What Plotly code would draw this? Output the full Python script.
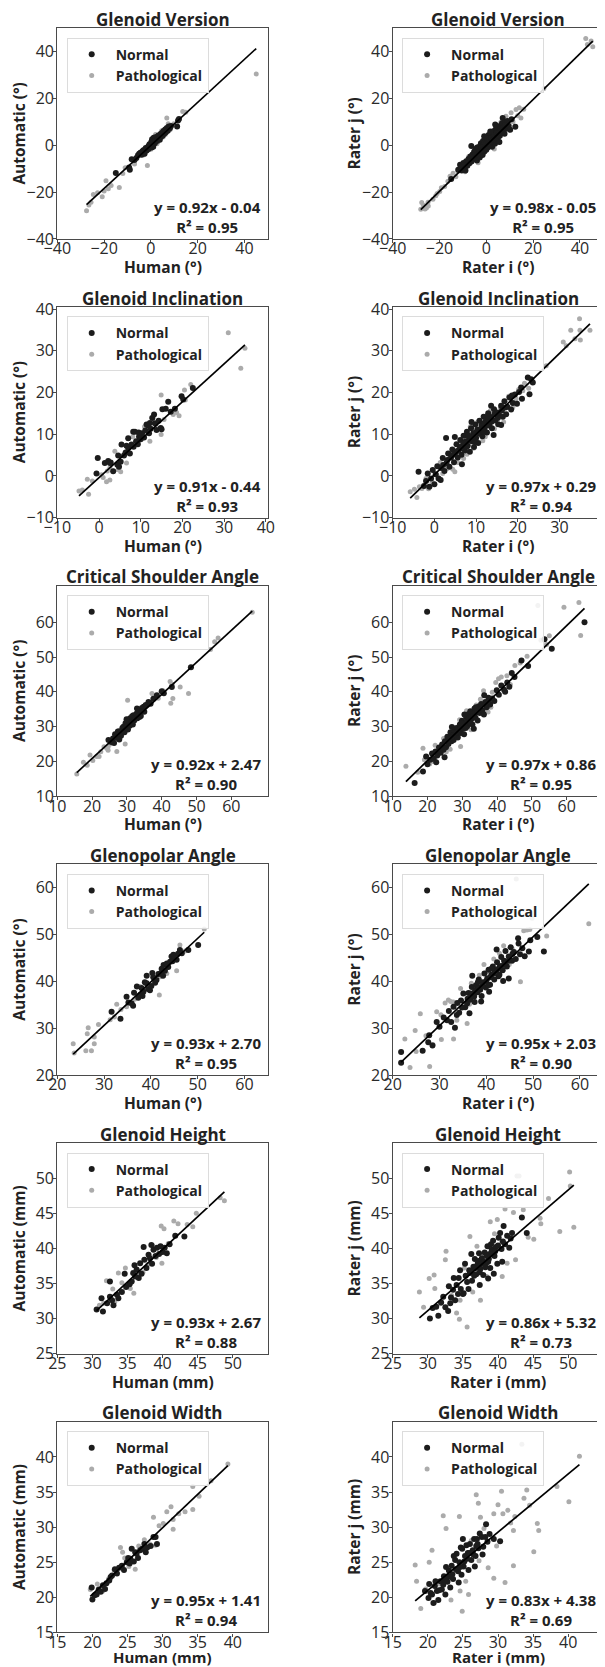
import plotly.graph_objects as go

# ---------------- chart values ----------------
panel_titles = ["Glenoid Version", "Glenoid Inclination", "Critical Shoulder Angle",
                "Glenopolar Angle", "Glenoid Height", "Glenoid Width"]
units = ["°", "°", "°", "°", "mm", "mm"]
axis_ranges = [(-40, 50), (-10, 40.5), (10, 70.5), (20, 65), (25, 55), (15, 45)]
tick_values = [[-40, -20, 0, 20, 40], [-10, 0, 10, 20, 30, 40], [10, 20, 30, 40, 50, 60],
               [20, 30, 40, 50, 60], [25, 30, 35, 40, 45, 50], [15, 20, 25, 30, 35, 40]]

slopes_auto = [0.92, 0.91, 0.92, 0.93, 0.93, 0.95]
intercepts_auto = [-0.04, -0.44, 2.47, 2.70, 2.67, 1.41]
r2_auto = [0.95, 0.93, 0.90, 0.95, 0.88, 0.94]
slopes_rater = [0.98, 0.97, 0.97, 0.95, 0.86, 0.83]
intercepts_rater = [-0.05, 0.29, 0.86, 2.03, 5.32, 4.38]
r2_rater = [0.95, 0.94, 0.95, 0.90, 0.73, 0.69]

# Glenoid Version
gv_auto_normal = [(-15,-11.8),(-9,-10.5),(-9.3,-9.5),(-8.2,-6),(-7,-6.3),(-6.2,-5.4),(-5.5,-4.2),(-5,-3.6),(-4.5,-3.2),(-4,-4),(-3.6,-2.5),(-3.2,-2.1),(-3,-3.2),(-2.5,-1.8),(-2.2,-1.2),(-1.8,-2.2),(-1.5,-0.9),(-1,-0.3),(-1,-1.6),(-0.6,0.4),(-0.2,-0.6),(0,0.5),(0.2,1.5),(0.5,2.6),(0.6,0.2),(0.9,1.2),(1.2,3.2),(1.4,1.8),(1.7,0.9),(2,2.4),(2.2,3.6),(2.6,1.8),(2.9,2.9),(3.2,4.2),(3.5,3.1),(3.8,2.4),(4.1,4.8),(4.4,3.7),(4.8,5.4),(5.1,4.2),(5.4,6.1),(5.8,5),(6.1,6.8),(6.4,5.6),(6.8,7.4),(7.2,6.2),(7.6,8),(8.1,7.3),(8.6,8.3),(11.2,8),(11.6,10.6),(12,11.2),(1,-0.6),(-2.7,-3.6),(0.3,-0.9)]
gv_auto_path = [(-27.5,-28),(-26.5,-25.5),(-25.6,-24.3),(-24.6,-21),(-22.8,-20.3),(-20.8,-22),(-20,-19.5),(-19.2,-15.2),(-18.2,-18.6),(-17,-17.2),(-13.5,-18),(-12,-12),(-11,-9.6),(-7,-8),(-6.4,-5.6),(-1.5,-8.6),(-2.3,-2.6),(-1.2,-0.4),(0.4,-0.3),(0.9,2.1),(2,4.6),(3,1.4),(3.6,2.6),(4.6,6.2),(5.2,3.6),(6.2,4.6),(6.8,11.7),(8.2,6.6),(9.8,9.2),(13.6,14.4),(14.9,14.1),(45,30.5),(-3.2,-4.1),(0,-1.7),(2.6,0.7),(7.4,9.2),(1.6,3.8),(-4.2,-2.8)]
gv_rater_normal = [(-15,-14.4),(-12,-10.4),(-11.2,-8.3),(-10.5,-10.8),(-9.8,-7.6),(-9.2,-9.4),(-8.6,-6.8),(-8.1,-8.7),(-7.6,-5.9),(-7.2,-7.7),(-6.8,-4.8),(-6.4,-0.3),(-6.3,-6.9),(-5.9,-3.9),(-5.6,-6),(-5.2,-2.8),(-5,-5.1),(-4.7,-1.6),(-4.5,-4.4),(-4.2,-3.2),(-4,-6.5),(-3.7,-2.1),(-3.5,-4.6),(-3.2,-0.7),(-3,-3.4),(-2.8,-5.2),(-2.6,-1.8),(-2.3,0.9),(-2.1,-2.9),(-1.9,-0.4),(-1.6,-4.1),(-1.4,1.8),(-1.2,-1.5),(-1,0.3),(-0.8,-2.6),(-0.6,2.9),(-0.4,-0.8),(-0.2,1.1),(0,-1.9),(0.2,3.6),(0.4,0.2),(0.6,-0.9),(0.8,2.1),(1,4.4),(1.2,-0.2),(1.4,1.3),(1.6,3.1),(1.8,0.4),(2,5.3),(2.2,2.2),(2.5,-0.6),(2.7,3.9),(3,1.5),(3.2,6.1),(3.4,2.6),(3.7,0.7),(4,4.6),(4.2,7.4),(4.5,2.1),(4.7,5.6),(5,3.3),(5.3,8.1),(5.5,6.4),(5.8,4.1),(6.1,7.2),(6.4,5.1),(6.7,9.4),(7,11.7),(7,6.2),(7.4,8.1),(7.8,4.9),(8.2,9.8),(8.5,7.1),(9,10.4),(9.6,8.2),(10.2,6.6),(10.8,11.1),(12.4,7.9),(-8.9,-10.8),(-3.9,-0.9),(1.7,5.9),(3.8,8.9),(5.6,1.4),(-0.9,3.9),
                   (-7.8,-7.2),(-6.9,-5.6),(-6,-4.5),(-5.4,-4.9),(-4.8,-3.1),(-4.3,-5.4),(-3.8,-3.9),(-3.3,-1.6),(-2.9,-2.4),(-2.4,-3.9),(-2,-1.1),(-1.5,-2.2),(-1.1,-0.6),(-0.7,1.2),(-0.3,-1.3),(0.1,0.9),(0.5,2.8),(0.9,0.6),(1.3,2.4),(1.9,1.4),(2.3,3.2),(2.8,2.3),(3.3,4.2),(3.9,3.1),(4.4,5.1),(4.9,4.3),(5.7,5.6),(6.3,6.4),(7.1,7.3),(8,8.6),(-9.5,-8.6),(-10.8,-9.5)]
gv_rater_path = [(-28,-27.3),(-27.6,-24.4),(-26.9,-25.6),(-26.2,-27.2),(-25.6,-26.8),(-24.8,-25.9),(-24.9,-24.3),(-21.6,-21.6),(-21,-20.6),(-19.9,-19.7),(-19.2,-18.1),(-17.8,-17.6),(-16.4,-15.4),(-15.5,-13.2),(-14.2,-11.9),(-13,-13.4),(-12.1,-11.1),(-10,-10.4),(-9.1,-11.3),(-7.5,-4.8),(-3.5,-7.5),(-1.2,-3.5),(1.1,0.9),(2.6,4.4),(5.3,1.3),(6.2,9.8),(7.6,11.2),(8.4,12.4),(9.4,8.8),(10.6,13.9),(11.4,10.1),(12.7,15.3),(13.4,12.6),(14.1,16),(14.8,11.7),(16,15.4),(24.6,24.3),(42.5,45.6),(43.2,43.1),(45.5,42.1),(44.8,44.6),(-22.8,-23.1),(0,2.2),(3.4,-1.6)]

# Glenoid Inclination
gi_auto_normal = [(-0.3,4.3),(-0.6,0.6),(1.4,3.1),(2.2,3.6),(2.6,3.1),(3.4,1.1),(4.4,2.7),(4.8,2.2),(5.4,7.5),(5.2,3.4),(6,4.9),(6.4,5.6),(7,9),(7,6.7),(7.4,5.4),(7.8,7.5),(8.2,10.6),(8.3,7),(8.6,10.6),(8.9,8.3),(9.3,7.6),(9.6,9.4),(10,8.8),(10.3,10.2),(10.8,9.2),(11.1,10.9),(11.4,12.3),(11.8,12),(12,10.2),(12.4,11.3),(12.8,13.9),(13.2,14.7),(13.4,12.6),(13.8,11),(14.3,13.2),(14.8,11.5),(15,11.2),(15.2,16),(16,16.1),(16.6,17.8),(17.2,15.4),(18.2,16.1),(19.8,19.1),(20.2,18.3),(22.5,21.1),(9.5,10.4),(6.6,7.2),(4.6,4.9),(2.8,3.2),(12.2,12.7)]
gi_auto_path = [(-4.8,-3.6),(-4,-3.4),(-2.5,-4.4),(-2.8,-0.8),(-1.6,-1.2),(0.6,0.3),(1,-0.4),(1.8,-1.4),(2,1.2),(2.6,-1),(2.6,1.9),(3.4,1.2),(3.8,5.9),(4.6,1.5),(5.2,1),(6.2,5.5),(6.6,3.1),(7.6,7.2),(9.4,8.1),(10.6,9.6),(12.2,8.3),(12.6,14),(13.6,12.2),(14.9,9.9),(14.9,19.4),(15.6,13.5),(17.8,14.7),(18.6,15.2),(19.2,14.4),(20.5,20.6),(20.7,18.2),(22,21.9),(31,34.3),(34,25.8),(35,30.6),(8.1,9.4),(10.9,11.8)]
gi_rater_normal = [(-3.8,1),(-2.5,-2.4),(-2,-1.2),(-1.6,0.6),(-1.2,-2.6),(-0.8,-0.6),(-0.4,1.4),(0,-2),(0.3,0.4),(0.7,2.3),(1,-0.6),(1.5,-1),(1.6,1.9),(2,4.3),(2.4,1.2),(2.8,9.1),(2.9,3.1),(3.3,5.4),(3.6,2.2),(4,4.4),(4.3,6.3),(4.7,3.3),(5,5.5),(5.3,7.6),(5.6,4.4),(6,6.4),(6.2,8.6),(6.5,5.1),(6.8,7.3),(7,9.6),(7.3,6.1),(7.5,8.3),(7.8,10.6),(8,7.2),(8.3,9.2),(8.5,5.8),(8.8,11.4),(9,8.3),(9.3,10.2),(9.5,6.9),(9.8,12.3),(10,9.1),(10.3,11.1),(10.5,7.9),(10.8,13.2),(11,10.1),(11.3,12.1),(11.5,9.5),(11.8,14.2),(12,11.1),(12.3,13.1),(12.6,10.4),(12.9,15),(13.2,12.1),(13.5,14.1),(13.8,11.4),(14.2,9.8),(14.3,16),(14.6,13.3),(15,15.2),(15.3,12.4),(15.6,14.5),(16,16.8),(16.4,14.2),(16.8,17.9),(17.2,14.8),(17.5,16.6),(18,18.8),(18.4,15.9),(18.8,17.5),(19.3,19.5),(19.8,17.3),(20.3,20.1),(21,18.5),(22.4,23.6),(22.8,19.6),(23.2,23.2),(23.6,22.4),(6.6,2.8),(8.9,12.9),(13.6,16.8),(4.9,9.3),(16,12.2),
                   (5.5,6),(6.3,7),(7.1,7.9),(7.7,7),(8.6,8.5),(9.2,9.4),(9.9,10.4),(10.6,10.2),(11.2,11.1),(11.9,12.6),(12.5,12),(13.1,13.6),(13.7,13),(14.4,14.8),(15.2,13.9),(16.2,15.7),(17,16.4),(3.1,3.8),(4.5,5.1),(2.1,2.6),(18.6,19.3),(20.8,21.2),(9.7,8.1),(11.7,10.6),(8.1,9.7),(12.8,14.3)]
gi_rater_path = [(-5.8,-3.8),(-4.2,-5.2),(-3.6,-2.6),(-3,-3),(-2,-0.6),(-1.4,-3.1),(-0.6,-1.4),(0.6,0.2),(1.4,3.2),(2,0.6),(3.1,1.8),(3.6,4.1),(4.4,1.6),(4.9,1),(5.6,3.2),(6.4,8.3),(7.8,5.2),(8.6,11.8),(9.4,6.6),(10.4,12.9),(11.6,8.4),(12.2,9.4),(13.4,15.6),(14.4,11.3),(15.8,16.2),(16.6,12.9),(17.8,19.1),(18.8,16.4),(19.6,18.5),(20.2,20.7),(21.2,20.4),(21.6,22.2),(22.6,21),(26.8,26.4),(30.9,32.1),(31.6,31.2),(32.7,34.9),(33.7,32.9),(34.8,37.7),(34.9,34.9),(35,32.6),(37.3,34.9),(-4.8,-3.2),(7,4.2)]

# Critical Shoulder Angle
csa_auto_normal = [(24.7,26.2),(25.5,25.6),(26,26.6),(26.6,27.8),(27,26.8),(27.4,28.6),(28,28.6),(28.3,27.4),(28.7,29.6),(29,30),(29.3,28.4),(29.6,31),(30,30.2),(30.3,29.2),(30.6,31.6),(30.9,32.4),(31.2,31.2),(31.5,33),(31.9,33.3),(32.1,31.8),(32.4,32.6),(32.8,33.8),(33,32.4),(33.3,34.4),(33.8,34.8),(34,33.1),(34.3,35.4),(34.8,35.7),(35,34.3),(35.4,36.2),(36.2,37.1),(36.8,36.6),(37.6,38),(38.6,39),(40,40.2),(40.6,39.6),(42.9,41.4),(48.4,47.1),(33.6,32.8),(31.7,30.6),(27.8,26.3),(29.9,32.1),(32.9,35.2),(26.3,25.3),(30.8,30.3)]
csa_auto_path = [(15.6,16.4),(17.5,19.8),(18.6,18.9),(19.4,21.9),(20.2,20.3),(21.3,21.4),(22.5,22.8),(23.4,24.2),(24.2,23.8),(24.6,23.2),(25.2,25),(27.1,22.9),(26.4,27.2),(27.8,29),(29.5,25),(30.2,37.6),(30.7,30.6),(32,32.9),(33.3,33.7),(35.8,36),(37.2,39.5),(39,38.2),(40.4,40.3),(42.4,43),(42.6,36.7),(43.2,38.1),(43,42.2),(45.3,41.4),(47.7,39.5),(48.2,47.1),(54,52.2),(55.2,54.4),(56.2,55.5),(66,62.9),(24.6,24.2),(22,21.4)]
csa_rater_normal = [(16.3,13.8),(18.7,17.1),(19.6,21.4),(20,19.2),(20.8,20.5),(21.3,22.3),(21.8,20.8),(22.3,22.9),(22.8,21.7),(23.3,24),(23.8,22.5),(24.2,24.9),(24.6,23.4),(25,25.8),(25.3,24.1),(25.7,27.1),(26,25),(26.3,26.4),(26.6,28.4),(26.9,25.8),(27.2,27.4),(27.5,26.2),(27.8,28.8),(28.1,27.1),(28.4,29.6),(28.7,26.9),(29,28.3),(29.3,30.6),(29.6,28.2),(29.9,31.7),(30.2,29.4),(30.5,27.8),(30.8,31),(31.1,32.8),(31.4,30.1),(31.7,33.6),(32,31.4),(32.3,34.4),(32.6,32.2),(32.9,30.6),(33.2,33.7),(33.5,35.2),(33.8,32.6),(34.1,34.5),(34.4,31.8),(34.7,35.8),(35,33.9),(35.4,36.5),(35.8,34.6),(36.2,33.5),(36.6,37.1),(37,35.6),(37.5,38.3),(38,36.4),(38.6,38.1),(39.2,37.4),(39.9,40.5),(40.5,39.2),(41.2,41.8),(42,40.6),(42.3,40),(42.9,42.7),(43.5,41.5),(44.2,45.4),(45,44.3),(47,49),(48.9,47.4),(55.7,52.4),(65.1,60),(53.6,55.1),(24.9,21.2),(27,29.9),(30.6,33.5),(33.3,29.4),(36.3,39),(22.5,19.8),
                    (26.2,26.5),(27,27),(27.6,27.6),(28.3,28.4),(28.9,29.2),(29.5,29.6),(30.1,30.4),(30.7,30.6),(31.3,31.6),(31.9,32.4),(32.5,32.8),(33.1,33.1),(33.7,34),(34.4,34.2),(35.1,35.5),(35.8,36.3),(36.7,36.4),(37.6,37.2),(29.8,31),(31,29.6),(33.9,35.6),(32.3,31.2)]
csa_rater_path = [(13.8,18.6),(17.2,16.9),(18.7,23.8),(19.1,20.5),(20.6,19.3),(21.5,20),(22.2,24.7),(23.4,23.5),(24.6,26.6),(25.4,22.8),(26.5,23.5),(27.8,29.8),(29.5,24.3),(29.2,32),(31.2,34.6),(32.5,29.1),(34,36.2),(35.2,37.9),(36.1,40.3),(37.4,34.2),(38.6,39.9),(39.6,42.7),(40.4,43.8),(41.2,44.3),(42.8,44.6),(45.1,47.6),(46.6,48.3),(48.6,50.2),(51.7,64.8),(52.6,54.8),(54.2,53.6),(55,56.1),(59.2,64.3),(63.5,65.7),(64,56.2),(38.2,35.6),(43.8,42.1),(28.3,27.7)]

# Glenopolar Angle
gp_auto_normal = [(31.6,33.5),(33.5,32),(34.8,36.7),(35.2,35.5),(35.9,35.3),(36.4,37.6),(37,38.9),(37.3,36.5),(37.7,37.1),(38,38.6),(38.4,37.8),(38.7,39.8),(39.1,39.6),(39.1,41.2),(39.4,38.4),(39.8,38.1),(40.1,39),(40.5,40.9),(40.9,39.7),(41.2,40.3),(41.6,41.6),(42,41.7),(42.3,42.7),(42.7,43.5),(43,42.3),(43.4,43.8),(43.7,43.1),(44.1,44.2),(44.4,45.3),(44.8,45.7),(45.1,44.9),(45.5,44.6),(45.8,45.9),(46.2,46.7),(46.6,46),(48,46.7),(50.1,47.8),(36.2,34.8),(38.2,36.9),(42.6,41.2),(44.6,44.3),(40.3,41.8)]
gp_auto_path = [(23.4,26.7),(23.6,24.7),(26.1,25.2),(26.4,28.8),(26.6,30.1),(27.3,25.2),(27.9,26.7),(27.9,28.1),(28.8,30.8),(31.3,31.8),(32.2,32.4),(32.7,35.1),(33.6,34),(34.8,34.6),(36.5,36.2),(37.7,38.9),(38.8,39.6),(40.6,40.2),(41.8,37.1),(42,41),(43.4,41.7),(44.6,45.1),(45.5,42.3),(46.2,47.8),(47.3,46.5),(51.4,51.2)]
gp_rater_normal = [(21.8,24.9),(21.8,22.6),(26.4,25.2),(27.6,27),(27.8,28.5),(28.5,26.3),(29.4,31.3),(30,30.3),(30.9,32.3),(31.6,31.7),(32,33.7),(32.5,31.3),(33,34.6),(33.7,32.8),(34.2,33.3),(34.6,35.9),(35.1,37.4),(35.5,34.5),(35.9,35.3),(36.2,37.5),(36.6,36.1),(36.9,38.8),(37.2,37),(37.5,35.6),(37.8,39.2),(38.1,37.7),(38.4,40.4),(38.7,38.2),(39,36.9),(39.3,39.8),(39.6,41.7),(39.9,38.7),(40.2,40.6),(40.5,42.5),(40.8,39.3),(41.1,41.4),(41.4,43.2),(41.7,40.4),(42,42.3),(42.3,44.1),(42.6,41.1),(42.9,43.2),(43.2,45.2),(43.5,42.4),(43.8,44.4),(44.1,46.5),(44.4,43.2),(44.8,40.6),(44.8,45.3),(45.2,47.3),(45.5,44.4),(45.9,46.3),(46.3,44.8),(46.8,49.2),(46.9,48.1),(47.2,45.8),(47.7,47.1),(48.2,45.4),(49.1,46.4),(49.4,48.8),(50.9,49.5),(52.3,46.4),(36.4,33.2),(38.9,35.7),(40.6,37.8),(33.3,30.1),(43.6,40.1),(37,41.2),(42.2,46.8),
                   (36,36.3),(36.8,37.4),(37.6,38),(38.4,38.7),(39.2,39.1),(40,40.1),(40.8,40.9),(41.6,41.7),(42.4,42.6),(43.2,43.3),(44,44),(44.8,44.4),(45.6,45.9),(38.2,39.8),(40.4,39.2),(42.8,41.4),(41.2,42.8),(37.4,36.8),(34.8,34.4),(33.8,35.4)]
gp_rater_path = [(22.6,27.7),(23.7,21.6),(24.8,29.5),(25,25),(25.9,33.1),(27.1,28.4),(27.9,21.8),(28.6,26.5),(29.4,33.5),(30.4,27.6),(31.2,35.4),(31.9,36),(32.4,35.7),(33,35.6),(33,27.7),(33.7,31.7),(34.5,38.5),(35.9,31),(36.8,39.6),(38.5,41.3),(39.5,43.6),(40.2,42.1),(41.6,44.8),(42.8,46),(43.7,47.6),(44.9,43.6),(45.5,47.1),(46.4,61.9),(47.3,39.9),(48,50.8),(48.7,51),(49.3,51.1),(49.8,53.5),(52.9,49.7),(61.9,52.3),(36.4,35.1),(30.3,32.9)]

# Glenoid Height
gh_auto_normal = [(30.6,31.3),(31.3,32.9),(31.5,31),(32.1,32.2),(32.5,35.3),(32.5,33.1),(32.8,32.6),(33,31.9),(33.5,33.4),(33.7,32.9),(34.2,33.8),(34.8,34.5),(35.3,34.9),(35.6,35.3),(35.8,36.5),(36,37.6),(36.3,37),(36.6,35.8),(36.8,37.9),(37,36.4),(37.3,40.2),(37.4,38.4),(37.7,37.2),(38,39.1),(38.2,38.6),(38.5,37.8),(38.7,39.8),(39,38.9),(39.2,40.1),(39.5,39.2),(39.7,40.3),(40,39.5),(40.3,40.1),(40.6,39.3),(41,40.6),(41.8,41.8),(43.1,41.7),(34.6,36.4),(38.4,40.5),(36.1,36)]
gh_auto_path = [(31,31.9),(31.6,32.2),(32,35.4),(32.9,34.2),(33.2,32.4),(33.7,36.5),(34.2,35.1),(34.7,37.2),(34.9,34.6),(35.4,34.3),(35.9,33.6),(36.4,36.3),(37.2,36.6),(37.9,37.7),(38.6,40.4),(39.1,38.7),(39.8,43.2),(39.9,37.9),(40.2,42.8),(40.8,40.7),(41.6,43.9),(42.2,43.5),(43.5,43.4),(44.3,43.1),(44.8,45),(48.2,47.2),(48.8,46.8)]
gh_rater_normal = [(30.3,30),(30.7,31.5),(31.2,31.7),(31.5,30.4),(31.9,32.3),(32.2,33.1),(32.5,31.6),(32.9,31.1),(33,34.6),(33.3,33),(33.6,34.1),(33.9,32.6),(34.1,34.8),(34.4,35.8),(34.7,34.2),(35,33.5),(35.1,33.6),(35.3,37.8),(35.6,35.2),(35.9,36.9),(36,36.5),(36.3,35.4),(36.5,37.4),(36.7,38.5),(36.9,36.3),(37.1,37.8),(37.3,39.3),(37.5,37.1),(37.7,38.6),(37.9,36.2),(38.1,39.4),(38.3,37.9),(38.5,40.3),(38.7,38.5),(38.9,37.2),(39.1,39.8),(39.3,41.1),(39.5,38.9),(39.7,40.2),(39.9,37.8),(40.1,41.5),(40.3,42.2),(40.5,39.9),(40.8,43.2),(41,40.6),(41.3,41.8),(41.6,40.1),(42,42.2),(43.4,44.4),(44.1,42.2),(37.4,34.8),(36.2,39.2),(34.6,36.9),(38.6,35.7),(40.6,38.1),(33.7,35.8),(35.8,34.2),(39.4,36.4),
                   (36.2,36.8),(36.8,37.2),(37.2,38.2),(37.6,37.8),(38,38.1),(38.4,38.9),(38.8,39.2),(39.2,39.2),(39.6,39.6),(40,40.4),(37.4,36.6),(38.2,37.3),(39,40.6),(35.4,36.1),(34.3,33.5),(33.2,32.2),(40.7,41),(41.8,41.4),(36.6,36.1),(38.6,38.1)]
gh_rater_path = [(28.8,33.8),(29.4,31.6),(30.2,35.7),(30.9,36.2),(31,34.3),(31.8,32.1),(32.5,38.4),(32.6,39.6),(33.4,33.3),(33.7,32.6),(34.1,30.8),(34.5,29.9),(34.6,32.6),(35.6,28.8),(35.2,37.2),(36,41.7),(36.4,33.8),(37,40.3),(37.5,32.6),(38,39.2),(38.4,36),(38.9,43.8),(39.5,42.1),(39.9,44.1),(40.6,36),(40.5,40.8),(41,45.6),(41.3,37.9),(42.2,45.1),(42.5,38.4),(42.7,50.3),(43,50.3),(43.6,45.5),(44.3,41.6),(45.1,41.3),(46,44.3),(46.1,43.5),(47.2,47.1),(48.8,42.4),(50.2,50.9),(50.3,48.9),(50.8,43),(37.7,37.4)]

# Glenoid Width
gw_auto_normal = [(19.9,21.4),(20,19.7),(20.3,20.3),(20.6,20.4),(20.9,21.1),(21.2,20.8),(21.5,21.7),(21.8,21.2),(22,22),(22.4,22.4),(22.8,23.1),(23.2,24),(23.5,23.4),(23.8,24.2),(24.2,24.5),(24.5,23.9),(24.9,25),(25.1,25.6),(25.4,25.5),(25.6,26.9),(25.9,25.1),(26.1,26.4),(26.3,26.2),(26.5,25.6),(26.8,26.7),(27.1,26.9),(27.4,27.6),(27.8,27.1),(28.3,27.3),(28.7,28.6),(29,28.6),(29.2,27.6),(25.3,24.8),(22.6,22.9),(27.6,26.4)]
gw_auto_path = [(19.7,21.1),(20.7,21.9),(21.5,20.9),(22.3,22.6),(23.1,23.8),(24,27.1),(24.6,25.6),(25.2,24.4),(26.1,24),(26.6,27.3),(27.4,28.2),(28.2,27.6),(28.7,31.4),(29,27.4),(29.5,30.2),(30.1,30.5),(30.6,32.2),(31.2,32.9),(31.5,31.1),(31.5,29.7),(32.3,31.9),(33.2,32.2),(34.3,32.5),(34.3,35.8),(35.2,34.4),(36.9,36.6),(39.3,39),(24.3,26.4)]
gw_rater_normal = [(19.6,20.9),(20.1,19.9),(20.4,20.6),(20.8,19.2),(21,21.6),(21.3,20.9),(21.5,19.6),(21.8,22.3),(22,21.1),(22.3,23),(22.5,20.4),(22.8,22.2),(23,23.8),(23.2,21.4),(23.4,24.5),(23.6,22.6),(23.9,25.3),(24.1,26.2),(24.3,23.7),(24.5,25),(24.7,27.1),(24.9,26.9),(25.1,24.4),(25.3,25.9),(25.5,27.4),(25.7,26.3),(26,27.6),(26.2,25.3),(26.4,26.7),(26.6,28.3),(26.8,25.9),(27,28.3),(27.2,27),(27.4,29.1),(27.7,28.6),(27.9,27.2),(28.3,30.4),(28.5,27.9),(28.8,29),(30.3,28),(25.8,23.9),(23.7,25.9),(21.1,22.3),(22.6,24.3),(24.4,22.1),(26.7,24.4),(27.8,26.1),(28.2,28.6),(20.2,21.9),(25,28.3),(29.4,28.3),
                   (21.6,21),(22.2,21.8),(22.9,23),(23.5,23.3),(24,24),(24.6,24.3),(25.2,25.1),(25.9,26.3),(26.5,26.1),(27.1,27.6),(23.3,22.9),(20.6,20.4),(25.6,25.5),(26.9,27.3),(24.8,23.2),(22.4,22.5)]
gw_rater_path = [(18.2,24.6),(18.4,22.3),(19,18.4),(19.7,21.2),(20.2,25),(20.6,26.7),(21,19.3),(21.6,21.9),(22.2,31.6),(22.6,29.8),(22.7,22.9),(23.3,19.6),(23.8,25.5),(24.5,31.5),(24.6,20.9),(24.9,18),(25.4,22.3),(25.8,20.4),(26.2,28.1),(26.9,34.6),(27.3,25.2),(27.5,31.4),(28,29.8),(28.6,24.2),(29.4,22.7),(29.4,31.9),(29.8,27.3),(30.5,35.1),(30.7,31.9),(31,22.1),(31.4,32.4),(31.8,30.6),(32.2,24.5),(32.2,29.5),(32.4,31.5),(33.4,41.8),(33.7,34.1),(34.1,35.3),(34.5,33.1),(35.1,26.5),(35.6,30.5),(35.8,29.5),(38.4,35.8),(40.1,33.6),(41.6,40.1),(30,33.2),(27.2,33.4)]

auto_normal = [gv_auto_normal, gi_auto_normal, csa_auto_normal, gp_auto_normal, gh_auto_normal, gw_auto_normal]
auto_path = [gv_auto_path, gi_auto_path, csa_auto_path, gp_auto_path, gh_auto_path, gw_auto_path]
rater_normal = [gv_rater_normal, gi_rater_normal, csa_rater_normal, gp_rater_normal, gh_rater_normal, gw_rater_normal]
rater_path = [gv_rater_path, gi_rater_path, csa_rater_path, gp_rater_path, gh_rater_path, gw_rater_path]

# ---------------- layout geometry (page px) ----------------
PAGE_W, PAGE_H = 605, 1667
OFF = 8                      # default body margin of the html page
W, H = PAGE_W - OFF, PAGE_H - OFF

def fx(px):
    return (px - OFF) / W

def fy(py):
    return 1 - (py - OFF) / H

col_left = [57.3, 392.7]
panel_w = 210.6
row_top0, row_pitch, panel_h = 28.3, 278.7, 210.6

FONT = "Open Sans"
TXT = "#222222"
NORMAL_C = "#1c1c1c"
PATH_C = "#ababab"

fig = go.Figure()
annotations = []
layout_upd = {}

for r in range(6):
    for c in range(2):
        idx = r * 2 + c + 1
        sfx = "" if idx == 1 else str(idx)
        xa, ya, leg = "x" + sfx, "y" + sfx, "legend" + sfx
        if c == 0:
            normal, path = auto_normal[r], auto_path[r]
            m, b, r2 = slopes_auto[r], intercepts_auto[r], r2_auto[r]
            xlab, ylab = f"Human ({units[r]})", f"Automatic ({units[r]})"
        else:
            normal, path = rater_normal[r], rater_path[r]
            m, b, r2 = slopes_rater[r], intercepts_rater[r], r2_rater[r]
            xlab, ylab = f"Rater i ({units[r]})", f"Rater j ({units[r]})"

        fig.add_trace(go.Scatter(
            x=[p[0] for p in path], y=[p[1] for p in path], mode="markers",
            marker=dict(color=PATH_C, size=5, line=dict(width=0)),
            name="Pathological", legend=leg, legendrank=2, xaxis=xa, yaxis=ya))
        fig.add_trace(go.Scatter(
            x=[p[0] for p in normal], y=[p[1] for p in normal], mode="markers",
            marker=dict(color=NORMAL_C, size=6, line=dict(width=0)),
            name="Normal", legend=leg, legendrank=1, xaxis=xa, yaxis=ya))
        xs = [p[0] for p in normal + path]
        x0, x1 = min(xs), max(xs)
        fig.add_trace(go.Scatter(
            x=[x0, x1], y=[m * x0 + b, m * x1 + b], mode="lines",
            line=dict(color="black", width=1.7), showlegend=False,
            xaxis=xa, yaxis=ya, hoverinfo="skip"))

        left = col_left[c]
        top = row_top0 + r * row_pitch
        bottom = top + panel_h
        xdom = [fx(left), min(1.0, fx(left + panel_w))]
        ydom = [fy(bottom), fy(top)]
        rng = axis_ranges[r]
        ax_common = dict(range=list(rng), tickvals=tick_values[r], showgrid=False, zeroline=False,
                         showline=True, mirror=True, linecolor="#4a4a4a", linewidth=1.2,
                         ticks="outside", ticklen=3, tickwidth=1, tickcolor="#4a4a4a",
                         tickfont=dict(family=FONT, size=16, color="#2a2a2a"),
                         fixedrange=True, automargin=False)
        layout_upd["xaxis" + sfx] = dict(domain=xdom, anchor=ya, ticklabelstandoff=-8, **ax_common)
        layout_upd["yaxis" + sfx] = dict(domain=ydom, anchor=xa, ticklabelstandoff=-4, **ax_common)
        layout_upd[leg] = dict(
            x=fx(left + 9.4), y=fy(top + 9.4), xanchor="left", yanchor="top",
            bgcolor="rgba(255,255,255,0.85)", bordercolor="#dcdcdc", borderwidth=1,
            font=dict(family=FONT, size=14, color=TXT, weight="bold"),
            itemwidth=38, tracegroupgap=0)

        cx = fx(left + panel_w / 2)
        annotations.append(dict(
            text=panel_titles[r], xref="paper", yref="paper", x=cx, y=fy(top),
            xanchor="center", yanchor="bottom", yshift=-3.5, borderpad=0, showarrow=False,
            font=dict(family=FONT, size=17, color=TXT, weight="bold")))
        xt_off = 28 if r < 5 else 24.2
        xt_size = 15.5 if r < 5 else 15
        annotations.append(dict(
            text=xlab, xref="paper", yref="paper", x=cx, y=fy(bottom + xt_off),
            xanchor="center", yanchor="middle", borderpad=0, showarrow=False,
            font=dict(family=FONT, size=xt_size, color=TXT, weight="bold")))
        ytx = 19 if c == 0 else 354
        annotations.append(dict(
            text=ylab, xref="paper", yref="paper", x=fx(ytx), y=fy(top + panel_h / 2),
            xanchor="center", yanchor="middle", textangle=-90, borderpad=0, showarrow=False,
            font=dict(family=FONT, size=15.5, color=TXT, weight="bold")))
        sign = "+" if b >= 0 else "-"
        annotations.append(dict(
            text=f"y = {m:.2f}x {sign} {abs(b):.2f}<br>R² = {r2:.2f}",
            xref=xa + " domain", yref=ya + " domain", x=1, y=0,
            xanchor="right", yanchor="bottom", xshift=-5, yshift=0, align="center",
            showarrow=False, font=dict(family=FONT, size=15, color=TXT, weight="bold")))

fig.update_layout(
    width=W, height=H, margin=dict(l=0, r=0, t=0, b=0, autoexpand=False),
    paper_bgcolor="white", plot_bgcolor="white",
    font=dict(family=FONT, color=TXT),
    annotations=annotations, **layout_upd)

fig.write_html("out.html")
